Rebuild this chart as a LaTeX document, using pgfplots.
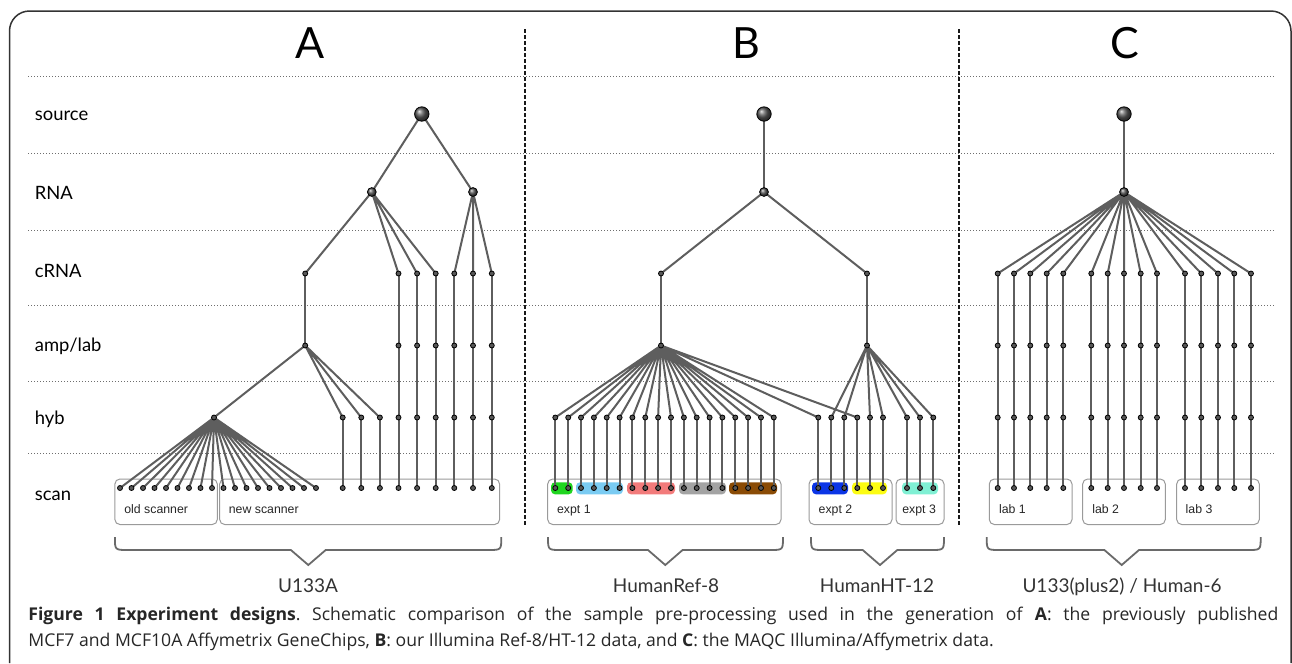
\documentclass[border=0pt]{standalone}
\usepackage{pgfplots}
\pgfplotsset{compat=1.18}
\usepackage{fontspec}
\setmainfont{Lato}
\newfontfamily\capfont{Open Sans}
\newfontfamily\boxfont{Liberation Sans}

\definecolor{edgegray}{HTML}{5E5E5E}
\definecolor{nodegray}{HTML}{585858}
\definecolor{boxgray}{HTML}{9A9A9A}
\definecolor{gridgray}{HTML}{6E6E6E}
\definecolor{bracegray}{HTML}{6A6A6A}
\definecolor{grpgreen}{HTML}{1FD51F}
\definecolor{grpsky}{HTML}{7ACBF2}
\definecolor{grpsalmon}{HTML}{F27B7B}
\definecolor{grpgray}{HTML}{A3A3A3}
\definecolor{grpbrown}{HTML}{8A4B05}
\definecolor{grpblue}{HTML}{0B35E6}
\definecolor{grpyellow}{HTML}{FCFC12}
\definecolor{grpaqua}{HTML}{80F0D4}

\pgfplotsset{
  edge/.style={draw=edgegray, line width=1pt, line join=round, mark=none, unbounded coords=jump},
  dot/.style={only marks, mark=*, mark size=1.25pt, mark options={fill=nodegray, draw=none}},
  hub/.style={only marks, mark=ball, mark size=2.2pt, mark options={ball color=black!65, draw=none}},
  root/.style={only marks, mark=ball, mark size=3.6pt, mark options={ball color=black!65, draw=none}},
  grid line/.style={draw=gridgray, line width=0.5pt, dash pattern=on 0.5pt off 1pt, mark=none},
  separator/.style={draw=black!90, line width=1pt, dash pattern=on 2pt off 1pt, mark=none},
}

\begin{document}
\frenchspacing
\begin{tikzpicture}
\begin{axis}[
  width=646pt, height=331.5pt, scale only axis,
  xmin=0, xmax=1292, ymin=0, ymax=663, y dir=reverse,
  hide axis, clip=false,
]
% page extent
\path (0,0) rectangle (1292,663);

% outer frame
\draw[black!80, line width=0.75pt, rounded corners=10pt]
  (9.5,663) -- (9.5,11) -- (1291,11) -- (1291,663);

% level separators
\addplot[grid line] coordinates {(28,76) (1276,76)};
\addplot[grid line] coordinates {(28,153) (1276,153)};
\addplot[grid line] coordinates {(28,230) (1276,230)};
\addplot[grid line] coordinates {(28,305) (1276,305)};
\addplot[grid line] coordinates {(28,381) (1276,381)};
\addplot[grid line] coordinates {(28,453) (1276,453)};

% panel separators
\addplot[separator] coordinates {(525,29) (525,525)};
\addplot[separator] coordinates {(959,29) (959,525)};

% level labels
\begin{scope}[every node/.style={anchor=base west, inner sep=0pt, font=\fontsize{9.2}{11}\selectfont}]
\node at (34.5,120) {source};
\node at (34.5,199) {RNA};
\node at (34.5,277) {cRNA};
\node at (34.5,351) {amp/lab};
\node at (34.5,424) {hyb};
\node at (34.5,500) {scan};
\end{scope}

% panel titles
\begin{scope}[every node/.style={anchor=base, inner sep=0pt, font=\fontsize{21.5}{24}\selectfont}]
\node at (310,58) {A};
\node at (746,58) {B};
\node at (1125,58) {C};
\end{scope}

% scan groups
\begin{scope}[boxgray, line width=0.5pt, rounded corners=2.5pt]
\draw[fill=white] (114.9,479) rectangle (217.3,524.5);
\draw[fill=white] (219.7,479) rectangle (499.6,524.5);
\draw[fill=white] (547.7,479) rectangle (781,524.5);
\draw[fill=white] (809,479) rectangle (892,524.5);
\draw[fill=white] (896,479) rectangle (944,524.5);
\draw[fill=white] (989.3,479) rectangle (1072,524.5);
\draw[fill=white] (1082.7,479) rectangle (1165.3,524.5);
\draw[fill=white] (1176.7,479) rectangle (1259.3,524.5);
\end{scope}

% sample batches in expt 1-3
\begin{scope}[rounded corners=2pt]
\fill[grpgreen]  (551,482.3) rectangle (572.7,494.3);
\fill[grpsky]    (576,482.3) rectangle (623,494.3);
\fill[grpsalmon] (627,482.3) rectangle (675,494.3);
\fill[grpgray]   (679,482.3) rectangle (726,494.3);
\fill[grpbrown]  (729,482.3) rectangle (777,494.3);
\fill[grpblue]   (812,482.3) rectangle (848,494.3);
\fill[grpyellow] (852,482.3) rectangle (887,494.3);
\fill[grpaqua]   (902,482.3) rectangle (938,494.3);
\end{scope}

% group labels
\begin{scope}[every node/.style={anchor=base west, inner sep=0pt, text=black!85, font=\boxfont\fontsize{6.15}{7}\selectfont}]
\node at (124,513.5) {old scanner};
\node at (228.5,513.5) {new scanner};
\node at (556.7,513.5) {expt 1};
\node at (818.3,513.5) {expt 2};
\node at (902,513.5) {expt 3};
\node at (998.7,513.5) {lab 1};
\node at (1092,513.5) {lab 2};
\node at (1185.3,513.5) {lab 3};
\end{scope}

% ---------------- A: U133A ----------------
\addplot[edge] coordinates {(371.8,192) (421.8,114) (473,192)};
\addplot[edge] coordinates {(305.2,273.5) (371.8,192) (398.5,273.5) (371.8,192) (417.1,273.5) (371.8,192) (435.7,273.5)};
\addplot[edge] coordinates {(454.3,273.5) (473,192) (473,273.5) (473,192) (491.8,273.5)};
\addplot[edge] coordinates {(305.2,273.5) (305.2,345.5)};
\addplot[edge] coordinates {(214,417.5) (305.2,345.5) (342.7,417.5) (305.2,345.5) (361.3,417.5) (305.2,345.5) (379.9,417.5)};
\addplot[edge] coordinates {
  (214,417.5) (120,488) (214,417.5) (131.5,488) (214,417.5) (143,488)
  (214,417.5) (154.5,488) (214,417.5) (166,488) (214,417.5) (177.5,488)
  (214,417.5) (189,488) (214,417.5) (200.5,488) (214,417.5) (212,488)
  (214,417.5) (223.5,488) (214,417.5) (235,488) (214,417.5) (246.5,488)
  (214,417.5) (258,488) (214,417.5) (269.5,488) (214,417.5) (281,488)
  (214,417.5) (292.5,488) (214,417.5) (304,488) (214,417.5) (316,488)};
\addplot[edge] coordinates {
  (342.7,417.5) (342.7,488) (0,nan) (361.3,417.5) (361.3,488) (0,nan)
  (379.9,417.5) (379.9,488) (0,nan)
  (398.5,273.5) (398.5,488) (0,nan) (417.1,273.5) (417.1,488) (0,nan)
  (435.7,273.5) (435.7,488) (0,nan) (454.3,273.5) (454.3,488) (0,nan)
  (473,273.5) (473,488) (0,nan) (491.8,273.5) (491.8,488)};

\addplot[dot] coordinates {(305.2,273.5) (398.5,273.5) (417.1,273.5) (435.7,273.5) (454.3,273.5) (473,273.5) (491.8,273.5)};
\addplot[dot] coordinates {(305.2,345.5) (398.5,345.5) (417.1,345.5) (435.7,345.5) (454.3,345.5) (473,345.5) (491.8,345.5)};
\addplot[dot] coordinates {(214,417.5) (342.7,417.5) (361.3,417.5) (379.9,417.5) (398.5,417.5) (417.1,417.5) (435.7,417.5) (454.3,417.5) (473,417.5) (491.8,417.5)};
\addplot[dot] coordinates {(120,488) (131.5,488) (143,488) (154.5,488) (166,488) (177.5,488) (189,488) (200.5,488) (212,488)
  (223.5,488) (235,488) (246.5,488) (258,488) (269.5,488) (281,488) (292.5,488) (304,488) (316,488)
  (342.7,488) (361.3,488) (379.9,488) (398.5,488) (417.1,488) (435.7,488) (454.3,488) (473,488) (491.8,488)};
\addplot[hub] coordinates {(371.8,192) (473,192)};
\addplot[root] coordinates {(421.8,114)};

% ---------------- B: HumanRef-8 / HumanHT-12 ----------------
\addplot[edge] coordinates {(764,114) (764,192)};
\addplot[edge] coordinates {(661,273.5) (764,192) (867,273.5)};
\addplot[edge] coordinates {(661,273.5) (661,345.5) (0,nan) (867,273.5) (867,345.5)};
\addplot[edge] coordinates {
  (661,345.5) (555.3,417.5) (661,345.5) (568.2,417.5) (661,345.5) (581,417.5)
  (661,345.5) (593.9,417.5) (661,345.5) (606.7,417.5) (661,345.5) (619.6,417.5)
  (661,345.5) (632.4,417.5) (661,345.5) (645.3,417.5) (661,345.5) (658.1,417.5)
  (661,345.5) (671,417.5) (661,345.5) (683.9,417.5) (661,345.5) (696.7,417.5)
  (661,345.5) (709.6,417.5) (661,345.5) (722.4,417.5) (661,345.5) (735.3,417.5)
  (661,345.5) (748.1,417.5) (661,345.5) (761,417.5) (661,345.5) (773.8,417.5)
  (661,345.5) (818.3,417.5) (661,345.5) (857.3,417.5)};
\addplot[edge] coordinates {
  (867,345.5) (831.3,417.5) (867,345.5) (844.3,417.5) (867,345.5) (870,417.5)
  (867,345.5) (883,417.5) (867,345.5) (907,417.5) (867,345.5) (920,417.5)
  (867,345.5) (933.3,417.5)};
\addplot[edge] coordinates {
  (555.3,417.5) (555.3,488) (0,nan) (568.2,417.5) (568.2,488) (0,nan) (581,417.5) (581,488) (0,nan)
  (593.9,417.5) (593.9,488) (0,nan) (606.7,417.5) (606.7,488) (0,nan) (619.6,417.5) (619.6,488) (0,nan)
  (632.4,417.5) (632.4,488) (0,nan) (645.3,417.5) (645.3,488) (0,nan) (658.1,417.5) (658.1,488) (0,nan)
  (671,417.5) (671,488) (0,nan) (683.9,417.5) (683.9,488) (0,nan) (696.7,417.5) (696.7,488) (0,nan)
  (709.6,417.5) (709.6,488) (0,nan) (722.4,417.5) (722.4,488) (0,nan) (735.3,417.5) (735.3,488) (0,nan)
  (748.1,417.5) (748.1,488) (0,nan) (761,417.5) (761,488) (0,nan) (773.8,417.5) (773.8,488) (0,nan)
  (818.3,417.5) (818.3,488) (0,nan) (831.3,417.5) (831.3,488) (0,nan) (844.3,417.5) (844.3,488) (0,nan)
  (857.3,417.5) (857.3,488) (0,nan) (870,417.5) (870,488) (0,nan) (883,417.5) (883,488) (0,nan)
  (907,417.5) (907,488) (0,nan) (920,417.5) (920,488) (0,nan) (933.3,417.5) (933.3,488)};

\addplot[dot] coordinates {(661,273.5) (867,273.5) (661,345.5) (867,345.5)};
\addplot[dot] coordinates {(555.3,417.5) (568.2,417.5) (581,417.5) (593.9,417.5) (606.7,417.5) (619.6,417.5)
  (632.4,417.5) (645.3,417.5) (658.1,417.5) (671,417.5) (683.9,417.5) (696.7,417.5)
  (709.6,417.5) (722.4,417.5) (735.3,417.5) (748.1,417.5) (761,417.5) (773.8,417.5)
  (818.3,417.5) (831.3,417.5) (844.3,417.5) (857.3,417.5) (870,417.5) (883,417.5)
  (907,417.5) (920,417.5) (933.3,417.5)};
\addplot[dot] coordinates {(555.3,488) (568.2,488) (581,488) (593.9,488) (606.7,488) (619.6,488)
  (632.4,488) (645.3,488) (658.1,488) (671,488) (683.9,488) (696.7,488)
  (709.6,488) (722.4,488) (735.3,488) (748.1,488) (761,488) (773.8,488)
  (818.3,488) (831.3,488) (844.3,488) (857.3,488) (870,488) (883,488)
  (907,488) (920,488) (933.3,488)};
\addplot[hub] coordinates {(764,192)};
\addplot[root] coordinates {(764,114)};

% ---------------- C: U133(plus2) / Human-6 ----------------
\addplot[edge] coordinates {(1124,114) (1124,192)};
\addplot[edge] coordinates {
  (1124,192) (997.7,273.5) (1124,192) (1014,273.5) (1124,192) (1030.3,273.5)
  (1124,192) (1046.7,273.5) (1124,192) (1063.3,273.5) (1124,192) (1091.3,273.5)
  (1124,192) (1107.7,273.5) (1124,192) (1124,273.5) (1124,192) (1140.7,273.5)
  (1124,192) (1157,273.5) (1124,192) (1185,273.5) (1124,192) (1201.3,273.5)
  (1124,192) (1218,273.5) (1124,192) (1234.3,273.5) (1124,192) (1251,273.5)};
\addplot[edge] coordinates {
  (997.7,273.5) (997.7,488) (0,nan) (1014,273.5) (1014,488) (0,nan) (1030.3,273.5) (1030.3,488) (0,nan)
  (1046.7,273.5) (1046.7,488) (0,nan) (1063.3,273.5) (1063.3,488) (0,nan) (1091.3,273.5) (1091.3,488) (0,nan)
  (1107.7,273.5) (1107.7,488) (0,nan) (1124,273.5) (1124,488) (0,nan) (1140.7,273.5) (1140.7,488) (0,nan)
  (1157,273.5) (1157,488) (0,nan) (1185,273.5) (1185,488) (0,nan) (1201.3,273.5) (1201.3,488) (0,nan)
  (1218,273.5) (1218,488) (0,nan) (1234.3,273.5) (1234.3,488) (0,nan) (1251,273.5) (1251,488)};
\addplot[dot] coordinates {(997.7,273.5) (1014,273.5) (1030.3,273.5) (1046.7,273.5) (1063.3,273.5) (1091.3,273.5) (1107.7,273.5) (1124,273.5) (1140.7,273.5) (1157,273.5) (1185,273.5) (1201.3,273.5) (1218,273.5) (1234.3,273.5) (1251,273.5)};
\addplot[dot] coordinates {(997.7,345.5) (1014,345.5) (1030.3,345.5) (1046.7,345.5) (1063.3,345.5) (1091.3,345.5) (1107.7,345.5) (1124,345.5) (1140.7,345.5) (1157,345.5) (1185,345.5) (1201.3,345.5) (1218,345.5) (1234.3,345.5) (1251,345.5)};
\addplot[dot] coordinates {(997.7,417.5) (1014,417.5) (1030.3,417.5) (1046.7,417.5) (1063.3,417.5) (1091.3,417.5) (1107.7,417.5) (1124,417.5) (1140.7,417.5) (1157,417.5) (1185,417.5) (1201.3,417.5) (1218,417.5) (1234.3,417.5) (1251,417.5)};
\addplot[dot] coordinates {(997.7,488) (1014,488) (1030.3,488) (1046.7,488) (1063.3,488) (1091.3,488) (1107.7,488) (1124,488) (1140.7,488) (1157,488) (1185,488) (1201.3,488) (1218,488) (1234.3,488) (1251,488)};
\addplot[hub] coordinates {(1124,192)};
\addplot[root] coordinates {(1124,114)};

% platform braces
\begin{scope}[bracegray, line width=0.9pt]
\draw (114.9,537) .. controls (114.9,550) .. (128,550) -- (290.9,550) -- (308.3,565) -- (325.7,550) -- (488,550) .. controls (501.3,550) .. (501.3,537);
\draw (548,537) .. controls (548,550) .. (561,550) -- (648,550) -- (665.3,565) -- (682.6,550) -- (770,550) .. controls (783,550) .. (783,537);
\draw (811,537) .. controls (811,550) .. (824,550) -- (862.7,550) -- (880,565) -- (897.3,550) -- (931,550) .. controls (944,550) .. (944,537);
\draw (986.7,537) .. controls (986.7,550) .. (1000,550) -- (1104.4,550) -- (1121.7,565) -- (1139,550) -- (1247.7,550) .. controls (1260.7,550) .. (1260.7,537);
\end{scope}

\begin{scope}[every node/.style={anchor=base, inner sep=0pt, text=black!80, font=\fontsize{9.5}{11}\selectfont}]
\node at (308,592) {U133A};
\node at (666,592) {HumanRef-8};
\node at (877,592) {HumanHT-12};
\node at (1122,592) {U133(plus2) / Human-6};
\end{scope}

% caption
\node[anchor=base west, inner sep=0pt, text=black!85] at (28,620.7) {\capfont\fontsize{8.8}{13}\selectfont
  \parbox[t]{625pt}{\textbf{Figure 1 Experiment designs}. Schematic comparison of the sample pre-processing used in the generation of \textbf{A}: the previously published\linebreak
  MCF7 and MCF10A Affymetrix GeneChips, \textbf{B}: our Illumina Ref-8/HT-12 data, and \textbf{C}: the MAQC Illumina/Affymetrix data.}};
\end{axis}
\end{tikzpicture}
\end{document}
